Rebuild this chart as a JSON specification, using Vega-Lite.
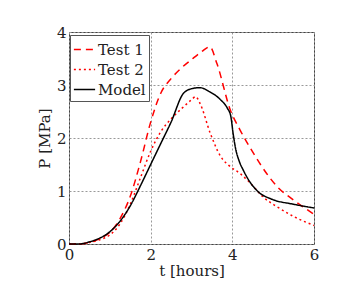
{
  "$schema": "https://vega.github.io/schema/vega-lite/v6.json",
  "autosize": "none",
  "padding": {"left": 69, "top": 32, "right": 35, "bottom": 47},
  "width": 245,
  "height": 212,
  "background": "white",
  "config": {
    "font": "DejaVu Serif",
    "view": {"stroke": "#444", "strokeWidth": 1}
  },
  "data": {
    "values": [
      {"t": 0, "P": 0, "s": "Test 1"},
      {"t": 0.25, "P": 0.0, "s": "Test 1"},
      {"t": 0.5, "P": 0.03, "s": "Test 1"},
      {"t": 0.75, "P": 0.1, "s": "Test 1"},
      {"t": 1, "P": 0.22, "s": "Test 1"},
      {"t": 1.25, "P": 0.48, "s": "Test 1"},
      {"t": 1.5, "P": 0.9, "s": "Test 1"},
      {"t": 1.75, "P": 1.55, "s": "Test 1"},
      {"t": 2, "P": 2.3, "s": "Test 1"},
      {"t": 2.25, "P": 2.85, "s": "Test 1"},
      {"t": 2.5, "P": 3.12, "s": "Test 1"},
      {"t": 2.75, "P": 3.32, "s": "Test 1"},
      {"t": 3, "P": 3.48, "s": "Test 1"},
      {"t": 3.25, "P": 3.63, "s": "Test 1"},
      {"t": 3.45, "P": 3.72, "s": "Test 1"},
      {"t": 3.62, "P": 3.41, "s": "Test 1"},
      {"t": 3.95, "P": 2.53, "s": "Test 1"},
      {"t": 4.19, "P": 2.15, "s": "Test 1"},
      {"t": 4.52, "P": 1.71, "s": "Test 1"},
      {"t": 4.84, "P": 1.33, "s": "Test 1"},
      {"t": 5.1, "P": 1.08, "s": "Test 1"},
      {"t": 5.5, "P": 0.83, "s": "Test 1"},
      {"t": 6, "P": 0.56, "s": "Test 1"},
      {"t": 0, "P": 0, "s": "Test 2"},
      {"t": 0.25, "P": 0.0, "s": "Test 2"},
      {"t": 0.5, "P": 0.03, "s": "Test 2"},
      {"t": 0.75, "P": 0.08, "s": "Test 2"},
      {"t": 1, "P": 0.17, "s": "Test 2"},
      {"t": 1.25, "P": 0.38, "s": "Test 2"},
      {"t": 1.5, "P": 0.75, "s": "Test 2"},
      {"t": 1.75, "P": 1.25, "s": "Test 2"},
      {"t": 2, "P": 1.75, "s": "Test 2"},
      {"t": 2.25, "P": 2.12, "s": "Test 2"},
      {"t": 2.5, "P": 2.36, "s": "Test 2"},
      {"t": 2.75, "P": 2.55, "s": "Test 2"},
      {"t": 3, "P": 2.72, "s": "Test 2"},
      {"t": 3.1, "P": 2.78, "s": "Test 2"},
      {"t": 3.21, "P": 2.65, "s": "Test 2"},
      {"t": 3.46, "P": 2.09, "s": "Test 2"},
      {"t": 3.7, "P": 1.67, "s": "Test 2"},
      {"t": 3.95, "P": 1.46, "s": "Test 2"},
      {"t": 4.19, "P": 1.33, "s": "Test 2"},
      {"t": 4.44, "P": 1.15, "s": "Test 2"},
      {"t": 4.75, "P": 0.89, "s": "Test 2"},
      {"t": 5.1, "P": 0.7, "s": "Test 2"},
      {"t": 5.5, "P": 0.52, "s": "Test 2"},
      {"t": 6, "P": 0.35, "s": "Test 2"},
      {"t": 0, "P": 0, "s": "Model"},
      {"t": 0.25, "P": 0.0, "s": "Model"},
      {"t": 0.5, "P": 0.04, "s": "Model"},
      {"t": 0.75, "P": 0.11, "s": "Model"},
      {"t": 1, "P": 0.23, "s": "Model"},
      {"t": 1.25, "P": 0.43, "s": "Model"},
      {"t": 1.5, "P": 0.72, "s": "Model"},
      {"t": 1.75, "P": 1.1, "s": "Model"},
      {"t": 2, "P": 1.5, "s": "Model"},
      {"t": 2.25, "P": 1.9, "s": "Model"},
      {"t": 2.5, "P": 2.3, "s": "Model"},
      {"t": 2.8, "P": 2.84, "s": "Model"},
      {"t": 3, "P": 2.93, "s": "Model"},
      {"t": 3.2, "P": 2.95, "s": "Model"},
      {"t": 3.45, "P": 2.87, "s": "Model"},
      {"t": 3.7, "P": 2.73, "s": "Model"},
      {"t": 3.88, "P": 2.56, "s": "Model"},
      {"t": 3.96, "P": 2.42, "s": "Model"},
      {"t": 4.02, "P": 2.08, "s": "Model"},
      {"t": 4.08, "P": 1.8, "s": "Model"},
      {"t": 4.16, "P": 1.58, "s": "Model"},
      {"t": 4.27, "P": 1.39, "s": "Model"},
      {"t": 4.44, "P": 1.16, "s": "Model"},
      {"t": 4.64, "P": 0.98, "s": "Model"},
      {"t": 4.95, "P": 0.85, "s": "Model"},
      {"t": 5.5, "P": 0.75, "s": "Model"},
      {"t": 6, "P": 0.68, "s": "Model"}
    ]
  },
  "mark": {"type": "line", "strokeWidth": 1.5, "interpolate": "monotone"},
  "encoding": {
    "x": {
      "field": "t", "type": "quantitative",
      "scale": {"domain": [0, 6], "nice": false},
      "axis": {
        "title": "t [hours]", "values": [0, 2, 4, 6], "ticks": false, "domain": false,
        "labelFontSize": 15, "labelColor": "#222", "labelPadding": 3, "labelFlush": false,
        "titleFontSize": 15, "titleFontWeight": "normal", "titleColor": "#222", "titlePadding": 1,
        "grid": true, "gridDash": [2, 2], "gridColor": "#999", "gridWidth": 1
      }
    },
    "y": {
      "field": "P", "type": "quantitative",
      "scale": {"domain": [0, 4], "nice": false},
      "axis": {
        "title": "P [MPa]", "values": [0, 1, 2, 3, 4], "ticks": false, "domain": false,
        "labelFontSize": 15, "labelColor": "#222", "labelPadding": 3, "labelFlush": false,
        "titleFontSize": 15, "titleFontWeight": "normal", "titleColor": "#222", "titlePadding": 4,
        "grid": true, "gridDash": [2, 2], "gridColor": "#999", "gridWidth": 1
      }
    },
    "color": {
      "field": "s", "type": "nominal", "title": null,
      "scale": {"domain": ["Test 1", "Test 2", "Model"], "range": ["#ff0000", "#ff0000", "#000000"]},
      "legend": {
        "orient": "none", "legendX": 1, "legendY": 3,
        "symbolType": "stroke", "symbolSize": 450, "symbolStrokeWidth": 1.5,
        "labelFontSize": 15, "labelColor": "#222", "labelOffset": 2, "labelLimit": 200,
        "strokeColor": "#555", "fillColor": "white", "padding": 3,
        "rowPadding": 0
      }
    },
    "strokeDash": {
      "field": "s", "type": "nominal", "title": null,
      "scale": {"domain": ["Test 1", "Test 2", "Model"], "range": [[7, 5], [2, 3], [1, 0]]}
    }
  }
}
